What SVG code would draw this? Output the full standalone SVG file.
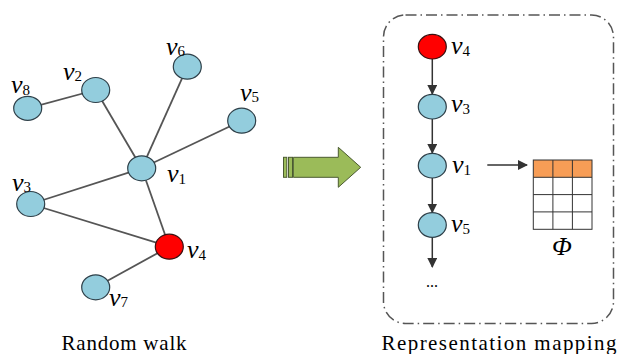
<svg xmlns="http://www.w3.org/2000/svg" width="618" height="354" viewBox="0 0 618 354">
<style>
.n{fill:#93cddd;stroke:#2e3f48;stroke-width:1.2}
.r{fill:#ff0000;stroke:#3a1010;stroke-width:1.2}
.e{stroke:#555;stroke-width:1.8;fill:none}
.a{stroke:#333;stroke-width:1.5;fill:none;marker-end:url(#ah)}
.lb{font-family:"Liberation Serif","Times New Roman",serif;font-size:26px;fill:#000}
.lb .v{font-style:italic}
.lb .s{font-size:15px}
.cap{font-family:"Liberation Serif","Times New Roman",serif;font-size:21px;fill:#000;text-anchor:middle}
.g{stroke:#333;stroke-width:1;fill:none}
</style>
<defs>
<marker id="ah" markerWidth="10" markerHeight="10" refX="9" refY="5" orient="auto" markerUnits="userSpaceOnUse">
<path d="M0,0 L10,5 L0,10 Z" fill="#333"/>
</marker>
</defs>
<rect width="618" height="354" fill="#fff"/>
<g id="connectors">
<line class="e" x1="27.7" y1="108.3" x2="95.7" y2="90"/>
<line class="e" x1="95.7" y1="90" x2="141.7" y2="168.3"/>
<line class="e" x1="187.3" y1="66.7" x2="141.7" y2="168.3"/>
<line class="e" x1="241.7" y1="120.7" x2="141.7" y2="168.3"/>
<line class="e" x1="30.7" y1="204" x2="141.7" y2="168.3"/>
<line class="e" x1="30.7" y1="204" x2="169.3" y2="246.7"/>
<line class="e" x1="141.7" y1="168.3" x2="169.3" y2="246.7"/>
<line class="e" x1="169.3" y1="246.7" x2="95.7" y2="287.3"/>
<line class="a" x1="432.3" y1="59" x2="432.3" y2="94"/>
<line class="a" x1="432.3" y1="119" x2="432.3" y2="153"/>
<line class="a" x1="432.3" y1="178" x2="432.3" y2="212.5"/>
<line class="a" x1="432.3" y1="237.5" x2="432.3" y2="267"/>
<line class="a" x1="487.3" y1="165" x2="527" y2="165"/>
</g>
<g id="v8"><ellipse class="n" cx="27.7" cy="108.3" rx="14" ry="12"/><text class="lb" x="11" y="93"><tspan class="v">v</tspan><tspan class="s" dy="2">8</tspan></text></g>
<g id="v2"><ellipse class="n" cx="95.7" cy="90" rx="14" ry="12.5"/><text class="lb" x="63" y="80"><tspan class="v">v</tspan><tspan class="s" dy="1">2</tspan></text></g>
<g id="v6"><ellipse class="n" cx="187.3" cy="66.7" rx="14" ry="12.5"/><text class="lb" x="166" y="55"><tspan class="v">v</tspan><tspan class="s" dy="1">6</tspan></text></g>
<g id="v5"><ellipse class="n" cx="241.7" cy="120.7" rx="14" ry="12.5"/><text class="lb" x="240" y="101"><tspan class="v">v</tspan><tspan class="s" dy="1">5</tspan></text></g>
<g id="v1"><ellipse class="n" cx="141.7" cy="168.3" rx="14" ry="12.5"/><text class="lb" x="167" y="182"><tspan class="v">v</tspan><tspan class="s" dy="2">1</tspan></text></g>
<g id="v3"><ellipse class="n" cx="30.7" cy="204" rx="14" ry="12.5"/><text class="lb" x="12" y="191"><tspan class="v">v</tspan><tspan class="s" dy="1">3</tspan></text></g>
<g id="v4"><ellipse class="r" cx="169.3" cy="246.7" rx="14" ry="12.5"/><text class="lb" x="187" y="258"><tspan class="v">v</tspan><tspan class="s" dy="2">4</tspan></text></g>
<g id="v7"><ellipse class="n" cx="95.7" cy="287.3" rx="14" ry="12.5"/><text class="lb" x="109" y="306"><tspan class="v">v</tspan><tspan class="s" dy="1">7</tspan></text></g>
<g id="bigarrow">
<path d="M293.3,157.3 L338.3,157.3 L338.3,147.3 L360.7,167.3 L338.3,187.3 L338.3,177.3 L293.3,177.3 Z" fill="#9bbb59" stroke="#4a5a30" stroke-width="1"/>
<rect x="283.5" y="157.3" width="3.3" height="20" fill="#9bbb59" stroke="#4a5a30" stroke-width="1"/>
<rect x="288.5" y="157.3" width="4" height="20" fill="#9bbb59" stroke="#4a5a30" stroke-width="1"/>
</g>
<g id="box"><rect x="383.5" y="15" width="230" height="308.5" rx="22" ry="22" fill="none" stroke="#555" stroke-width="1.5" stroke-dasharray="11 4 1.5 4"/></g>
<g id="s4"><ellipse class="r" cx="432.3" cy="46.7" rx="14" ry="12.3"/><text class="lb" x="451" y="54"><tspan class="v">v</tspan><tspan class="s" dy="2">4</tspan></text></g>
<g id="s3"><ellipse class="n" cx="432.3" cy="106.7" rx="14" ry="12.3"/><text class="lb" x="451" y="112"><tspan class="v">v</tspan><tspan class="s" dy="2">3</tspan></text></g>
<g id="s1"><ellipse class="n" cx="432.3" cy="165.7" rx="14" ry="12.3"/><text class="lb" x="452" y="173"><tspan class="v">v</tspan><tspan class="s" dy="2">1</tspan></text></g>
<g id="s5"><ellipse class="n" cx="432.3" cy="225" rx="14" ry="12.3"/><text class="lb" x="451" y="232"><tspan class="v">v</tspan><tspan class="s" dy="2">5</tspan></text></g>
<g id="dots"><text x="432" y="287" font-family="Liberation Serif,serif" font-size="16" text-anchor="middle">...</text></g>
<g id="phi">
<rect x="533.3" y="160" width="58.7" height="17.3" fill="#f79d56"/>
<rect class="g" x="533.3" y="160" width="58.7" height="69.3"/>
<line class="g" x1="552.9" y1="160" x2="552.9" y2="229.3"/>
<line class="g" x1="572.4" y1="160" x2="572.4" y2="229.3"/>
<line class="g" x1="533.3" y1="177.3" x2="592" y2="177.3"/>
<line class="g" x1="533.3" y1="194.6" x2="592" y2="194.6"/>
<line class="g" x1="533.3" y1="211.9" x2="592" y2="211.9"/>
<text x="562" y="255" font-family="Liberation Serif,serif" font-size="26" font-style="italic" text-anchor="middle">Φ</text>
</g>
<text class="cap" x="124" y="350" textLength="125" lengthAdjust="spacing">Random walk</text>
<text class="cap" x="499" y="350" textLength="235" lengthAdjust="spacing">Representation mapping</text>
</svg>
